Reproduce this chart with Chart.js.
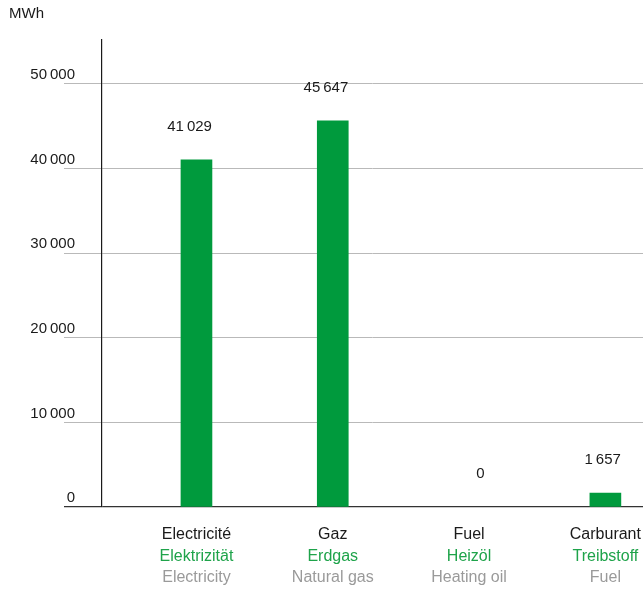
<!DOCTYPE html>
<html>
<head>
<meta charset="utf-8">
<script src="https://cdn.jsdelivr.net/npm/chart.js@4.4.1/dist/chart.umd.min.js"></script>
<style>
  html, body { margin: 0; padding: 0; background: #fff; }
  #wrap { width: 643px; height: 589px; position: relative; }
</style>
</head>
<body>
<div id="wrap"><canvas id="chart"></canvas></div>
<script>
const unit = 'MWh';
const labelsFr = ['Electricité', 'Gaz', 'Fuel', 'Carburant'];
const labelsDe = ['Elektrizität', 'Erdgas', 'Heizöl', 'Treibstoff'];
const labelsEn = ['Electricity', 'Natural gas', 'Heating oil', 'Fuel'];
const values = [41029, 45647, 0, 1657];
const yTicks = [0, 10000, 20000, 30000, 40000, 50000];

const FONT = '"Liberation Sans", Arial, Helvetica, sans-serif';
const GREEN = '#009a3d';

function fmt(n) {
    // thin space as thousands separator
    return String(n).replace(/\B(?=(\d{3})+(?!\d))/g, '\u2009');
}

// value labels, category labels and unit
const textPlugin = {
    id: 'texts',
    afterDraw(chart) {
        const ctx = chart.ctx;
        const x = chart.scales.x;
        const y = chart.scales.y;
        ctx.save();
        ctx.textBaseline = 'middle';

        ctx.font = '15px ' + FONT;
        ctx.fillStyle = '#1a1a1a';
        ctx.textAlign = 'left';
        ctx.fillText(unit, 9, 14);

        const meta = chart.getDatasetMeta(0);
        values.forEach((v, i) => {
            const bar = meta.data[i];
            const cx = x.getPixelForValue(i);
            ctx.font = '15px ' + FONT;
            ctx.textAlign = 'right';
            ctx.fillStyle = '#1a1a1a';
            ctx.fillText(fmt(v), cx + bar.width / 2, y.getPixelForValue(v) - 33);

            ctx.font = '16px ' + FONT;
            ctx.textAlign = 'center';
            ctx.fillStyle = '#1a1a1a';
            ctx.fillText(labelsFr[i], cx, 535);
            ctx.fillStyle = '#1ea34a';
            ctx.fillText(labelsDe[i], cx, 557);
            ctx.fillStyle = '#9a9a9a';
            ctx.fillText(labelsEn[i], cx, 578);
        });
        ctx.restore();
    }
};

new Chart(document.getElementById('chart'), {
    type: 'bar',
    data: {
        datasets: [{
            data: values.map((v, i) => ({ x: i, y: v })),
            backgroundColor: values.map(v => v > 0 ? GREEN : 'rgba(0,0,0,0)'),
            borderWidth: 0,
            barThickness: 31
        }]
    },
    options: {
        responsive: true,
        maintainAspectRatio: false,
        animation: false,
        layout: { padding: { top: 40, bottom: 82, left: 0, right: 0 } },
        plugins: {
            legend: { display: false },
            tooltip: { enabled: false }
        },
        scales: {
            x: {
                type: 'linear',
                display: false,
                offset: false,
                min: -0.693,
                max: 3.276
            },
            y: {
                min: 0,
                max: 55200,
                afterFit(scale) { scale.width = 102; },
                afterBuildTicks(scale) { scale.ticks = yTicks.map(v => ({ value: v })); },
                border: { display: true, color: '#1a1a1a', width: 1.2 },
                grid: {
                    color: ctx => ctx.tick && ctx.tick.value === 0 ? '#333' : '#b9b9b9',
                    lineWidth: ctx => ctx.tick && ctx.tick.value === 0 ? 1.3 : 1,
                    tickLength: 38,
                    drawTicks: true
                },
                ticks: {
                    color: '#1a1a1a',
                    font: { family: FONT, size: 15 },
                    padding: -11,
                    labelOffset: -9,
                    callback: v => fmt(v)
                }
            }
        }
    },
    plugins: [textPlugin]
});
</script>
</body>
</html>
